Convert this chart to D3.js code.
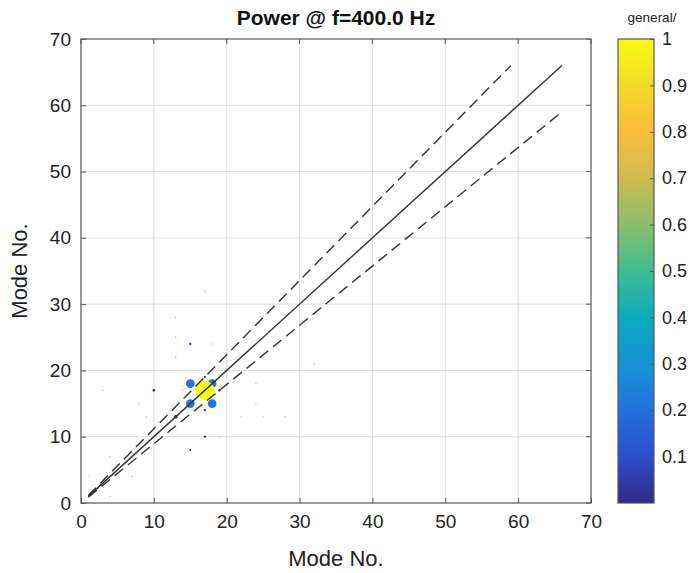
<!DOCTYPE html>
<html>
<head>
<meta charset="utf-8">
<script src="https://cdn.jsdelivr.net/npm/d3@7"></script>
<style>
  html, body { margin: 0; padding: 0; background: #fff; }
  svg { display: block; font-family: "Liberation Sans", Arial, Helvetica, sans-serif; }
</style>
</head>
<body>
<svg id="chart" width="691" height="573"></svg>
<script>
// Mode pairs (row mode i, column mode j) and their normalised power
const modeI = [17, 15, 18, 15, 18, 13, 10, 19, 15, 17, 17, 17, 15,
               13, 18, 13, 14, 8, 9, 24, 24, 22, 25, 28, 19, 4, 7, 3, 13, 17, 32, 1, 4];
const modeJ = [17, 18, 18, 15, 15, 13, 17, 17, 24, 19, 14, 10, 8,
               25, 24, 22, 17, 15, 13, 18, 15, 13, 13, 13, 10, 7, 4, 17, 28, 32, 21, 4, 1];
const power = [1.0, 0.21, 0.21, 0.21, 0.21, 0.04, 0.02, 0.02, 0.015, 0.015, 0.015, 0.015, 0.01,
               0.005, 0.005, 0.005, 0.004, 0.005, 0.005, 0.005, 0.005, 0.004, 0.004, 0.004, 0.004,
               0.005, 0.005, 0.003, 0.004, 0.004, 0.004, 0.004, 0.004];

// Reference lines: equality and the +/- band
const diagLine  = [[1, 1], [66, 66]];
const upperLine = [[1, 1.12], [59, 66]];
const lowerLine = [[1, 0.89], [66, 59]];

const xTicks = [0, 10, 20, 30, 40, 50, 60, 70];
const yTicks = [0, 10, 20, 30, 40, 50, 60, 70];
const cbTicks = [0.1, 0.2, 0.3, 0.4, 0.5, 0.6, 0.7, 0.8, 0.9, 1];

// Parula-like colour stops, evenly spaced over [0, 1]
const parulaStops = ["#352a87", "#2a4fcc", "#2272dc", "#1593d6", "#0dabbd",
                     "#3ebc90", "#8abf6b", "#cfbb4f", "#fbbd3c", "#f4d92b", "#f9fb0e"];

const svg = d3.select("#chart");
const plot = { left: 81, right: 591, top: 39, bottom: 503 };
const cb = { left: 618, right: 654, top: 39, bottom: 503 };

const x = d3.scaleLinear().domain([0, 70]).range([plot.left, plot.right]);
const y = d3.scaleLinear().domain([0, 70]).range([plot.bottom, plot.top]);
const colorScale = d3.scaleLinear()
  .domain(parulaStops.map((_, i) => i / (parulaStops.length - 1)))
  .range(parulaStops)
  .interpolate(d3.interpolateRgb);
const rScale = d3.scaleSqrt().domain([0, 1]).range([0, 9.5]);
const cbScale = d3.scaleLinear().domain([0, 1]).range([cb.bottom, cb.top]);

// Grid
const grid = svg.append("g").attr("stroke", "#dcdcdc").attr("stroke-width", 1);
grid.selectAll(".gx").data(xTicks.slice(1, -1)).join("line")
  .attr("x1", d => x(d)).attr("x2", d => x(d))
  .attr("y1", plot.top).attr("y2", plot.bottom);
grid.selectAll(".gy").data(yTicks.slice(1, -1)).join("line")
  .attr("y1", d => y(d)).attr("y2", d => y(d))
  .attr("x1", plot.left).attr("x2", plot.right);

// Scatter of modal power
const pts = modeI.map((d, k) => ({ i: d, j: modeJ[k], p: power[k] }))
  .sort((a, b) => a.p - b.p);
svg.append("g").selectAll("circle").data(pts).join("circle")
  .attr("cx", d => x(d.i)).attr("cy", d => y(d.j))
  .attr("r", d => Math.max(rScale(d.p), 0.6))
  .attr("fill", d => colorScale(d.p))
  .attr("fill-opacity", d => d.p < 0.008 ? 0.45 : 1);

// Reference lines
const line = d3.line().x(d => x(d[0])).y(d => y(d[1]));
svg.append("path").attr("d", line(diagLine))
  .attr("fill", "none").attr("stroke", "#333").attr("stroke-width", 1.4);
[upperLine, lowerLine].forEach(l => {
  svg.append("path").attr("d", line(l))
    .attr("fill", "none").attr("stroke", "#333").attr("stroke-width", 1.4)
    .attr("stroke-dasharray", "11,6");
});

// Axes
const axisColor = "#555";
const xAxis = svg.append("g").attr("transform", `translate(0,${plot.bottom})`)
  .call(d3.axisBottom(x).tickValues(xTicks).tickSize(-5).tickPadding(9).tickFormat(d3.format("d")));
const yAxis = svg.append("g").attr("transform", `translate(${plot.left},0)`)
  .call(d3.axisLeft(y).tickValues(yTicks).tickSize(-5).tickPadding(10).tickFormat(d3.format("d")));
[xAxis, yAxis].forEach(a => {
  a.select(".domain").remove();
  a.selectAll(".tick line").attr("stroke", axisColor);
  a.selectAll(".tick text").attr("fill", "#222").style("font-size", "19px")
    .style("font-family", "Liberation Sans, Arial, sans-serif");
});
xAxis.selectAll(".tick text").attr("dy", "0.85em");
// Top and right tick marks
svg.append("g").selectAll("line").data(xTicks).join("line")
  .attr("x1", d => x(d)).attr("x2", d => x(d))
  .attr("y1", plot.top).attr("y2", plot.top + 5).attr("stroke", axisColor);
svg.append("g").selectAll("line").data(yTicks).join("line")
  .attr("y1", d => y(d)).attr("y2", d => y(d))
  .attr("x1", plot.right).attr("x2", plot.right - 5).attr("stroke", axisColor);

svg.append("rect")
  .attr("x", plot.left).attr("y", plot.top)
  .attr("width", plot.right - plot.left).attr("height", plot.bottom - plot.top)
  .attr("fill", "none").attr("stroke", axisColor).attr("stroke-width", 1.2);

// Titles
svg.append("text").attr("x", (plot.left + plot.right) / 2).attr("y", 25)
  .attr("text-anchor", "middle").style("font-size", "21px").style("font-weight", "bold")
  .attr("fill", "#111").text("Power @ f=400.0 Hz");
svg.append("text").attr("x", (plot.left + plot.right) / 2).attr("y", 566)
  .attr("text-anchor", "middle").style("font-size", "22px")
  .attr("fill", "#222").text("Mode No.");
svg.append("text").attr("transform", `translate(27,${(plot.top + plot.bottom) / 2}) rotate(-90)`)
  .attr("text-anchor", "middle").style("font-size", "22px")
  .attr("fill", "#222").text("Mode No.");

// Colour bar
const defs = svg.append("defs");
const grad = defs.append("linearGradient").attr("id", "cbgrad")
  .attr("x1", 0).attr("y1", 1).attr("x2", 0).attr("y2", 0);
grad.selectAll("stop").data(parulaStops).join("stop")
  .attr("offset", (d, i) => i / (parulaStops.length - 1))
  .attr("stop-color", d => d);
svg.append("rect")
  .attr("x", cb.left).attr("y", cb.top)
  .attr("width", cb.right - cb.left).attr("height", cb.bottom - cb.top)
  .attr("fill", "url(#cbgrad)").attr("stroke", axisColor).attr("stroke-width", 1.2);
const cbAxis = svg.append("g").attr("transform", `translate(${cb.right},0)`)
  .call(d3.axisRight(cbScale).tickValues(cbTicks).tickSize(-4).tickPadding(8)
    .tickFormat(d => d === 1 ? "1" : d3.format(".1f")(d)));
cbAxis.select(".domain").remove();
cbAxis.selectAll(".tick line").attr("stroke", axisColor);
cbAxis.selectAll(".tick text").attr("fill", "#222").style("font-size", "18px")
  .style("font-family", "Liberation Sans, Arial, sans-serif");
svg.append("text").attr("x", 652).attr("y", 22)
  .attr("text-anchor", "middle").style("font-size", "13.5px")
  .attr("fill", "#222").text("general/");
</script>
</body>
</html>
